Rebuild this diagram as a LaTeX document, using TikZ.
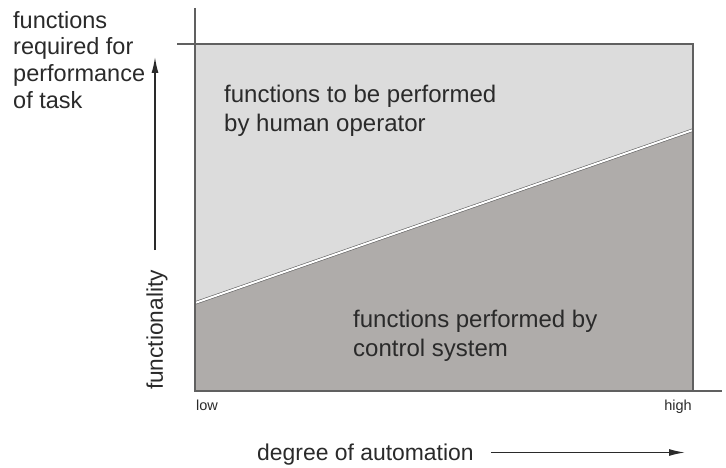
\documentclass[tikz,border=0pt]{standalone}
\usepackage{fontspec}
\setmainfont{Liberation Sans}
\usetikzlibrary{arrows.meta, positioning}
\definecolor{humanfill}{HTML}{DCDCDC}
\definecolor{controlfill}{HTML}{AFACAA}
\definecolor{axisline}{HTML}{606060}
\definecolor{labeltext}{HTML}{2A2A2A}
\tikzset{
	biglabel/.style={font=\fontsize{24}{29}\selectfont, align=left, inner sep=0pt, text=labeltext},
	leftlabel/.style={font=\fontsize{23.5}{26.7}\selectfont, align=left, inner sep=0pt, text=labeltext},
	ticklabel/.style={font=\fontsize{14.5}{16}\selectfont, inner sep=0pt, text=labeltext},
	axis/.style={draw=axisline, line width=1.2pt},
	pointer/.style={draw=labeltext, line width=1.4pt, -{Latex[length=16pt,width=7pt]}}
}

\begin{document}
\begin{tikzpicture}[x=1pt, y=-1pt]
		\useasboundingbox (0,0) rectangle (726,468);
		% shaded areas
		\fill[humanfill] (195,44) rectangle (693,391);
		\fill[controlfill] (195,303) -- (693,130) -- (693,391) -- (195,391) -- cycle;
		\draw[axisline, line width=0.6pt, double=white, double distance=2pt] (195,303) -- (693,130);
		% axes and frame
		\draw[axis] (195,8) -- (195,391) -- (722,391);
		\draw[axis] (177,44) -- (693,44) -- (693,391);
		% labels
		\node[leftlabel, anchor=north west] (required) at (13,11) {functions\\required for\\performance\\of task};
		\node[biglabel, anchor=north west] (human) at (224,84.5) {functions to be performed\\by human operator};
		\node[biglabel, anchor=north west] (control) at (353,309.5) {functions performed by\\control system};
		\node[font=\fontsize{22.7}{26}\selectfont, inner sep=0pt, text=labeltext, rotate=90] (functionality) at (157,330) {functionality};
		\node[ticklabel, anchor=base west] (low) at (196,410) {low};
		\node[ticklabel, anchor=base east] (high) at (692,410) {high};
		\node[font=\fontsize{22.9}{26}\selectfont, inner sep=0pt, text=labeltext, anchor=base west] (automation) at (257,460) {degree of automation};
		% arrows
		\coordinate (ybottom) at (155,250);
		\coordinate (ytop) at (155,57);
		\coordinate (xtip) at (685,452.5);
		\draw[pointer] (ybottom) -- (ytop);
		\draw[pointer] (automation.east |- xtip) ++(17,0) -- (xtip);
\end{tikzpicture}
\end{document}
